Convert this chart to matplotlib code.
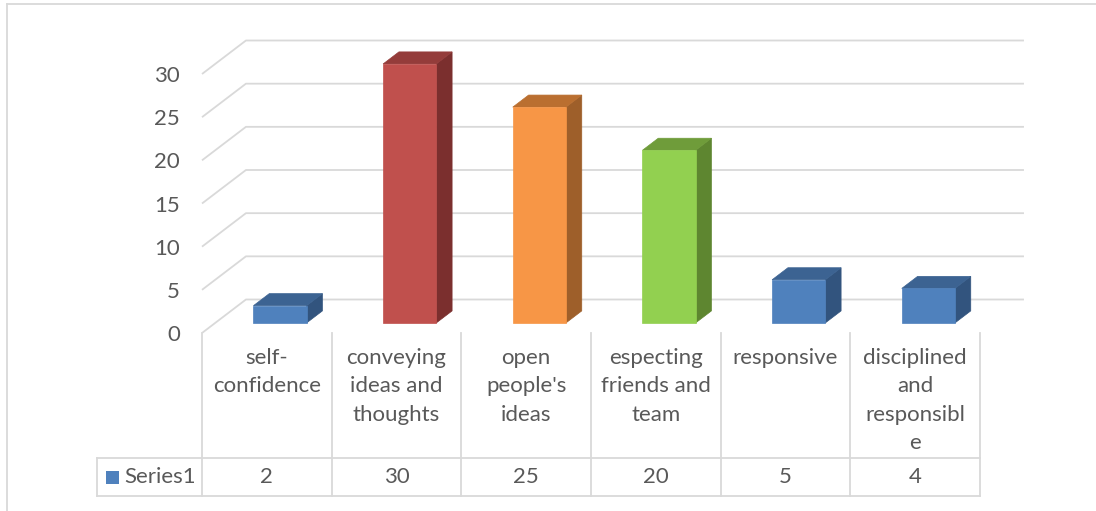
import matplotlib
matplotlib.use("Agg")
import matplotlib.pyplot as plt
from matplotlib.patches import Polygon
from matplotlib.transforms import blended_transform_factory
from matplotlib.lines import Line2D

# ---- data ----
categories = ["self-\nconfidence", "conveying\nideas and\nthoughts", "open\npeople's\nideas",
              "especting\nfriends and\nteam", "responsive", "disciplined\nand\nresponsibl\ne"]
values = [2, 30, 25, 20, 5, 4]
series_name = "Series1"
yticks = [0, 5, 10, 15, 20, 25, 30]

front_colors = ["#4F81BD", "#C0504D", "#F79646", "#92D050", "#4F81BD", "#4F81BD"]
top_colors = ["#3C6392", "#943C3A", "#BA6F30", "#6F9C3A", "#3C6392", "#3C6392"]
side_colors = ["#32547E", "#7B2F2E", "#9E5F2A", "#5E8630", "#32547E", "#32547E"]

plt.rcParams['font.family'] = ['Lato', 'DejaVu Sans']
TXT = "#595959"
GRID = "#D9D9D9"
FS = 16

W, H = 1096, 511
fig = plt.figure(figsize=(W / 100, H / 100), dpi=100)

# front plane of the 3D box in pixels
px_left, px_right, px_zero, px_top = 202, 980, 333, 74
ax = fig.add_axes([px_left / W, (H - px_zero) / H, (px_right - px_left) / W, (px_zero - px_top) / H])
n = len(categories)
ax.set_xlim(0, n)
ax.set_ylim(0, 30)
for s in ax.spines.values():
    s.set_visible(False)
ax.set_xticks([])
ax.set_yticks(yticks)
ax.set_yticklabels([str(t) for t in yticks], fontsize=FS, color=TXT)
ax.tick_params(axis='y', length=0, pad=16)
ax.patch.set_alpha(0)

DX, DY = 0.339, 3.88   # depth offsets in data units

# back wall gridlines with left side diagonals
for t in yticks:
    ax.plot([0, DX, n + DX], [t, t + DY, t + DY], color=GRID, lw=1.3,
            clip_on=False, zorder=1, solid_capstyle='butt')

# 3D bars
bw = 0.41
f0, f1 = 0.30, 0.66
a, b = f0 * DX, f0 * DY
c, d = f1 * DX, f1 * DY
for i, v in enumerate(values):
    x0 = i + 0.5 - bw / 2
    x1 = x0 + bw
    front = [(x0 + a, b), (x1 + a, b), (x1 + a, v + b), (x0 + a, v + b)]
    top = [(x0 + a, v + b), (x1 + a, v + b), (x1 + c, v + d), (x0 + c, v + d)]
    side = [(x1 + a, b), (x1 + c, d), (x1 + c, v + d), (x1 + a, v + b)]
    for pts, col in ((side, side_colors[i]), (top, top_colors[i]), (front, front_colors[i])):
        ax.add_patch(Polygon(pts, closed=True, facecolor=col, edgecolor=col, lw=0.5,
                             clip_on=False, zorder=3))

# ---- data table ----
tr = blended_transform_factory(ax.transData, fig.transFigure)
fy = lambda py: (H - py) / H
x_label_left = (97 - px_left) / (px_right - px_left) * n
row_top, row_bot = 458, 496
# vertical lines
for k in range(n + 1):
    fig.add_artist(Line2D([k, k], [fy(px_zero), fy(row_bot)], transform=tr, color=GRID, lw=1.3))
fig.add_artist(Line2D([x_label_left, x_label_left], [fy(row_top), fy(row_bot)], transform=tr, color=GRID, lw=1.3))
for py in (row_top, row_bot):
    fig.add_artist(Line2D([x_label_left, n], [fy(py), fy(py)], transform=tr, color=GRID, lw=1.3))

# category labels
for i, cat in enumerate(categories):
    fig.text(i + 0.5, fy(348), cat, transform=tr, ha='center', va='top', fontsize=FS,
             color=TXT, linespacing=1.53)

# values row
row_mid = fy((row_top + row_bot) / 2)
for i, v in enumerate(values):
    fig.text(i + 0.5, row_mid, str(v), transform=tr, ha='center', va='center', fontsize=FS, color=TXT)

# legend key + series name
fig.add_artist(plt.Rectangle((106 / W, fy(484)), 13 / W, 13 / H, transform=fig.transFigure,
                             facecolor="#4F81BD", edgecolor="none"))
fig.text(124 / W, row_mid, series_name, ha='left', va='center', fontsize=FS, color=TXT)

# outer chart border (cropped)
fig.add_artist(Line2D([7 / W, 1.0], [fy(4), fy(4)], transform=fig.transFigure, color=GRID, lw=1.3))
fig.add_artist(Line2D([7 / W, 7 / W], [fy(4), 0], transform=fig.transFigure, color=GRID, lw=1.3))

fig.savefig("out.png", dpi=100)
